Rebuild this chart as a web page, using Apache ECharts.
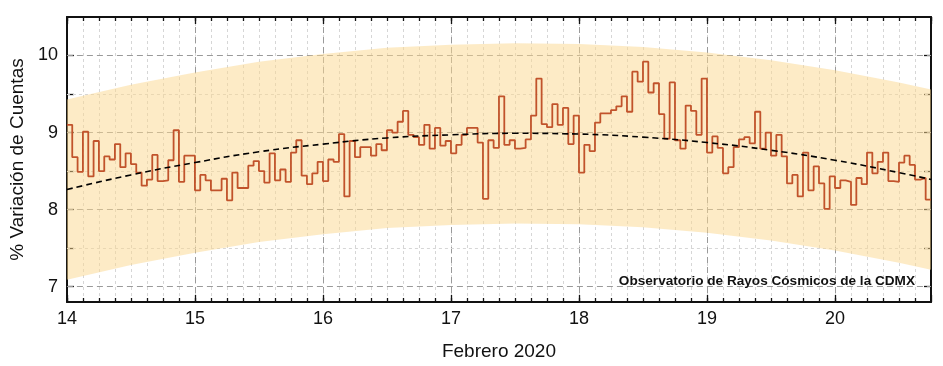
<!DOCTYPE html>
<html><head><meta charset="utf-8">
<script src="https://cdn.jsdelivr.net/npm/echarts@6/dist/echarts.min.js"></script>
<style>html,body{margin:0;padding:0;background:#fff}#c{width:943px;height:366px}</style>
</head><body><div id="c"></div>
<script>
// ---- data ----
const firstDay = 14;          // day of the first hourly bin (Feb 14, 00h)
const lastDay = 20.75;        // end of x range
const hourlyVariation = [
  9.10, 8.68, 8.49, 9.01, 8.43, 8.89, 8.50, 8.69, 8.65, 8.85, 8.55, 8.73,
  8.59, 8.48, 8.31, 8.39, 8.71, 8.37, 8.38, 8.64, 9.03, 8.36, 8.70, 8.70,
  8.25, 8.45, 8.38, 8.25, 8.25, 8.40, 8.12, 8.48, 8.28, 8.28, 8.57, 8.63,
  8.50, 8.35, 8.73, 8.38, 8.52, 8.36, 8.74, 8.90, 8.44, 8.33, 8.47, 8.62,
  8.37, 8.65, 8.62, 8.98, 8.17, 8.89, 8.68, 8.81, 8.81, 8.70, 8.85, 8.77,
  9.03, 9.00, 9.14, 9.28, 8.97, 8.94, 8.84, 9.10, 8.79, 9.06, 8.83, 8.89,
  8.73, 8.84, 8.97, 9.06, 9.06, 8.87, 8.14, 8.90, 8.80, 9.47, 8.84, 8.90,
  8.79, 8.80, 8.91, 9.22, 9.70, 9.11, 9.07, 9.37, 9.10, 9.32, 8.85, 9.22,
  8.48, 8.84, 8.76, 9.13, 9.25, 9.25, 9.29, 9.34, 9.47, 9.27, 9.79, 9.66,
  9.92, 9.52, 9.64, 9.24, 8.92, 9.65, 8.90, 8.79, 9.35, 9.28, 8.97, 9.70,
  8.74, 8.95, 8.80, 8.47, 8.55, 8.81, 8.91, 8.94, 8.86, 9.27, 8.79, 9.00,
  8.70, 8.97, 8.69, 8.34, 8.45, 8.17, 8.74, 8.25, 8.56, 8.34, 8.01, 8.43,
  8.28, 8.38, 8.36, 8.06, 8.41, 8.33, 8.74, 8.47, 8.62, 8.74, 8.37, 8.36,
  8.61, 8.70, 8.58, 8.39, 8.41, 8.13
];
const fitDays   = [14, 14.5, 15, 15.5, 16, 16.5, 17, 17.5, 18, 18.5, 19, 19.5, 20, 20.5, 20.75];
const fitValues = [8.26, 8.45, 8.61, 8.75, 8.85, 8.93, 8.97, 8.99, 8.98, 8.94, 8.87, 8.77, 8.64, 8.48, 8.39];
const bandUpper = [9.43, 9.62, 9.78, 9.92, 10.02, 10.10, 10.14, 10.16, 10.15, 10.11, 10.04, 9.94, 9.81, 9.65, 9.56];
const bandLower = [7.09, 7.28, 7.44, 7.58, 7.68, 7.76, 7.80, 7.82, 7.81, 7.77, 7.70, 7.60, 7.47, 7.31, 7.22];
const yLabelValues = [7, 8, 9, 10];
const yTickValues = [7, 7.5, 8, 8.5, 9, 9.5, 10];
const yHalfValues = [7.5, 8.5, 9.5];
const xTitle = 'Febrero 2020';
const yTitle = '% Variación de Cuentas';
const noteText = 'Observatorio de Rayos Cósmicos de la CDMX';

// ---- build ----
const FONT = '"Liberation Sans", Arial, Helvetica, sans-serif';
const INK = '#111';
const stepData = hourlyVariation.map((v, i) => [firstDay + i / 24, v]);
stepData.push([firstDay + hourlyVariation.length / 24, hourlyVariation[hourlyVariation.length - 1]]);
const fitData = fitDays.map((d, i) => [d, fitValues[i]]);

const hidden = {show: false};
function xAx(pos, interval, tickLen, extra) {
  return Object.assign({
    type: 'value', min: firstDay, max: lastDay, interval: interval, position: pos,
    axisLine: hidden, axisLabel: hidden, splitLine: hidden,
    axisTick: {show: true, inside: true, length: tickLen, lineStyle: {color: INK, width: 1.3}}
  }, extra || {});
}
const darkGrid = {color: '#9a9a9a', type: [6, 4], width: 1};
const lightGrid = {color: '#d6d6d6', type: [3, 3], width: 1};
const frame = {show: true, onZero: false, lineStyle: {color: INK, width: 2}};

function renderBand(params, api) {
  if (params.dataIndex !== 0) return null;
  const pts = [];
  for (let i = 0; i < fitDays.length; i++) pts.push(api.coord([fitDays[i], bandUpper[i]]));
  for (let i = fitDays.length - 1; i >= 0; i--) pts.push(api.coord([fitDays[i], bandLower[i]]));
  return {type: 'polygon', shape: {points: pts}, style: {fill: 'rgba(251,215,142,0.5)'}, silent: true};
}

const option = {
  animation: false,
  backgroundColor: '#fff',
  grid: {left: 66, right: 12, top: 17, bottom: 64},
  xAxis: [
    xAx('bottom', 0.125, 4, {
      axisLine: frame,
      splitLine: {show: true, lineStyle: lightGrid},
      axisLabel: {show: true, showMaxLabel: false, margin: 8, fontSize: 18, color: INK, fontFamily: FONT,
        formatter: v => Number.isInteger(v) ? String(v) : ''},
      name: xTitle, nameLocation: 'middle', nameGap: 40,
      nameTextStyle: {fontSize: 19, color: INK, fontFamily: FONT}
    }),
    xAx('bottom', 1, 7, {splitLine: {show: true, lineStyle: darkGrid}}),
    xAx('top', 0.125, 4, {axisLine: frame}),
    xAx('top', 1, 7)
  ],
  yAxis: [
    {type: 'value', min: 6.8, max: 10.5, position: 'left',
     axisLine: frame,
     axisTick: {show: true, inside: true, length: 7, customValues: yTickValues, lineStyle: {color: INK, width: 1.3}},
     axisLabel: {customValues: yLabelValues, margin: 9, fontSize: 18, color: INK, fontFamily: FONT},
     splitLine: hidden,
     name: yTitle, nameLocation: 'middle', nameGap: 38, nameRotate: 90,
     nameTextStyle: {fontSize: 19, color: INK, fontFamily: FONT}},
    {type: 'value', min: 6.8, max: 10.5, position: 'right',
     axisLine: frame,
     axisTick: {show: true, inside: true, length: 7, customValues: yTickValues, lineStyle: {color: INK, width: 1.3}},
     axisLabel: hidden, splitLine: hidden}
  ],
  series: [
    {type: 'custom', name: 'band', renderItem: renderBand, data: [[firstDay, fitValues[0]]],
     clip: true, silent: true, z: 2},
    {type: 'line', name: 'counts', data: stepData, step: 'end', symbol: 'none',
     lineStyle: {color: '#c1532b', width: 1.8}, silent: true, z: 10},
    {type: 'line', name: 'fit', data: fitData, smooth: true, symbol: 'none',
     lineStyle: {color: '#000', width: 1.6, type: [6, 4]}, silent: true, z: 11,
     markLine: {silent: true, symbol: ['none', 'none'], z: 1, label: {show: false}, animation: false,
       data: yLabelValues.map(v => ({yAxis: v, lineStyle: darkGrid}))
         .concat(yHalfValues.map(v => ({yAxis: v, lineStyle: lightGrid})))}}
  ],
  graphic: [{
    type: 'text', x: 915, y: 281, z: 20, silent: true,
    style: {text: noteText, align: 'right', verticalAlign: 'middle',
      fontSize: 13.6, fontWeight: 'bold', fontFamily: FONT, fill: INK}
  }]
};
const chart = echarts.init(document.getElementById('c'), null, {renderer: 'canvas'});
chart.setOption(option);
</script></body></html>
